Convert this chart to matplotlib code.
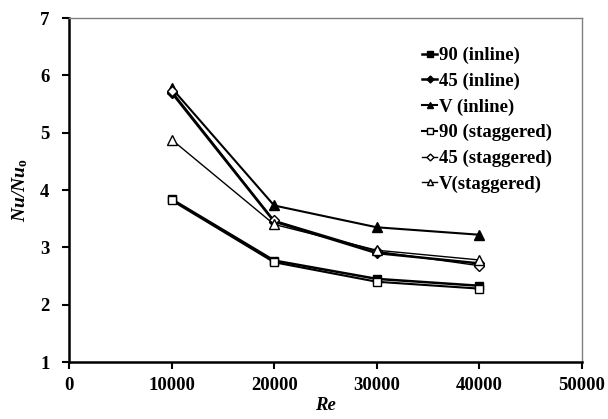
import matplotlib.pyplot as plt

plt.rcParams['font.family'] = ['Liberation Serif', 'DejaVu Serif']
plt.rcParams['font.weight'] = 'bold'
plt.rcParams['mathtext.fontset'] = 'custom'
plt.rcParams['mathtext.rm'] = 'Liberation Serif'
plt.rcParams['mathtext.it'] = 'Liberation Serif:italic'
plt.rcParams['mathtext.bf'] = 'Liberation Serif:bold'
plt.rcParams['mathtext.bfit'] = 'Liberation Serif:bold:italic'

# Data
re = [10000, 20000, 30000, 40000]
nu_90_inline = [3.84, 2.77, 2.45, 2.33]
nu_45_inline = [5.70, 3.45, 2.90, 2.72]
nu_v_inline = [5.78, 3.73, 3.35, 3.22]
nu_90_stag = [3.82, 2.74, 2.40, 2.28]
nu_45_stag = [5.73, 3.47, 2.93, 2.68]
nu_v_stag = [4.88, 3.40, 2.95, 2.78]

fig = plt.figure(figsize=(6.08, 4.19), dpi=100)
ax = fig.add_axes([0.1135, 0.136, 0.8435, 0.821])

ax.plot(re, nu_90_inline, '-s', color='black', lw=1.8, ms=6, label='90 (inline)')
ax.plot(re, nu_45_inline, '-D', color='black', lw=1.8, ms=5, label='45 (inline)')
ax.plot(re, nu_v_inline, '-^', color='black', lw=1.5, ms=6.5, label='V (inline)')
ax.plot(re, nu_90_stag, '-s', color='black', mfc='white', lw=1.5, ms=6, label='90 (staggered)')
ax.plot(re, nu_45_stag, '-D', color='black', mfc='white', lw=1, ms=5, label='45 (staggered)')
ax.plot(re, nu_v_stag, '-^', color='black', mfc='white', lw=1, ms=6.5, label='V(staggered)')

ax.set_xlim(0, 50000)
ax.set_ylim(1, 7)
ax.set_xticks([0, 10000, 20000, 30000, 40000, 50000])
ax.set_yticks([1, 2, 3, 4, 5, 6, 7])
ax.tick_params(direction='out', length=5, width=1.5, labelsize=13.5)
ax.tick_params(axis='y', pad=9)
ax.tick_params(axis='x', pad=6)
for lab in ax.get_xticklabels() + ax.get_yticklabels():
    lab.set_fontweight('bold')

ax.spines['left'].set_linewidth(1.8)
ax.spines['bottom'].set_linewidth(1.8)
ax.spines['top'].set_color('gray')
ax.spines['right'].set_color('gray')
ax.spines['top'].set_linewidth(1)
ax.spines['right'].set_linewidth(1)

ax.set_xlabel('Re', fontstyle='italic', fontweight='bold', fontsize=13.5, labelpad=2)
ax.set_ylabel(r'$\mathbfit{Nu/Nu}_\mathbf{o}$', fontsize=14, labelpad=7)

ax.legend(loc='upper right', bbox_to_anchor=(0.975, 0.965), frameon=False,
          handlelength=0.8, handletextpad=0.1, labelspacing=0.45,
          prop={'weight': 'bold', 'size': 13.5}, markerscale=0.7)

fig.savefig('out.png', dpi=100)
